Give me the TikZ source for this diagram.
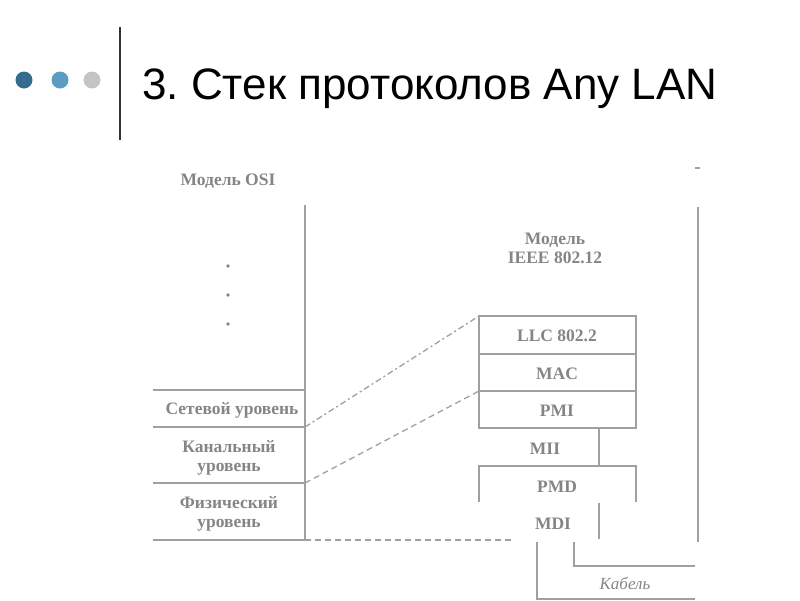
\documentclass[tikz,border=0pt]{standalone}
\usepackage{fontspec}
\setmainfont{Liberation Serif}
\newfontfamily\titlefont{Liberation Sans}
\definecolor{dotA}{HTML}{336C8C}
\definecolor{dotB}{HTML}{5A9CC2}
\definecolor{dotC}{HTML}{C4C4C4}
\definecolor{ln}{HTML}{A0A0A0}
\definecolor{tx}{HTML}{858585}
\tikzset{
  lbl/.style={font=\bfseries\fontsize{17.5}{19}\selectfont, text=tx, align=center, inner sep=0pt},
  gline/.style={draw=ln, line width=1.6pt},
  dline/.style={draw=ln, line width=1.3pt, dash pattern=on 6pt off 4pt},
  ddline/.style={draw=ln, line width=1.3pt, dash pattern=on 6pt off 3pt on 2pt off 3pt},
}
\frenchspacing
\begin{document}
\begin{tikzpicture}[x=1pt,y=-1pt]
\useasboundingbox (0,0) rectangle (800,600);
% title
\fill[dotA] (24,80) circle (8.5);
\fill[dotB] (60,80) circle (8.5);
\fill[dotC] (92,80) circle (8.5);
\draw[line width=1.5pt, black!80] (120,27) -- (120,140);
\node[anchor=base west, inner sep=0pt, font=\titlefont\fontsize{44}{46}\selectfont] (title) at (142,99.5) {3. Стек протоколов Any LAN};
% OSI column
\node[lbl] (osi) at (228,181) {Модель OSI};
\coordinate (osiTop) at (305,205);
\coordinate (osiBot) at (305,540);
\draw[gline] (osiTop) -- (osiBot);
\foreach \yy in {266,295,324} \fill[tx] (228,\yy) circle (1.8);
\coordinate (h1l) at (153,390); \coordinate (h1r) at (305,390);
\coordinate (h2l) at (153,427); \coordinate (h2r) at (305,427);
\coordinate (h3l) at (153,483); \coordinate (h3r) at (305,483);
\coordinate (h4l) at (153,540); \coordinate (h4r) at (305,540);
\draw[gline] (h1l) -- (h1r);
\draw[gline] (h2l) -- (h2r);
\draw[gline] (h3l) -- (h3r);
\draw[gline] (h4l) -- (h4r);
\node[lbl] (net) at (232,410) {Сетевой уровень};
\node[lbl] (link) at (229,458) {Канальный\\уровень};
\node[lbl] (phys) at (229,514) {Физический\\уровень};
% IEEE column
\node[lbl] (ieee) at (555,248) {Модель\\IEEE 802.12};
\draw[gline] (479,316) rectangle (636,428);
\draw[gline] (479,354) -- (636,354);
\draw[gline] (479,391) -- (636,391);
\node[lbl] (llc) at (557,336) {LLC 802.2};
\node[lbl] (mac) at (557,374) {MAC};
\node[lbl] (pmi) at (557,411) {PMI};
\draw[gline] (599,428) -- (599,466);
\node[lbl] (mii) at (545,449) {MII};
\draw[gline] (479,502) -- (479,466) -- (636,466) -- (636,502);
\node[lbl] (pmd) at (557,487) {PMD};
\node[lbl] (mdi) at (553,524) {MDI};
\draw[gline] (599,503) -- (599,539);
\draw[gline] (574,542) -- (574,566) -- (695,566);
\draw[gline] (537,542) -- (537,599) -- (695,599);
\node[font=\itshape\fontsize{17}{18}\selectfont, text=tx, inner sep=0pt] (cable) at (625,583) {Кабель};
% right line
\draw[gline] (698,207) -- (698,542);
\draw[draw=ln, line width=1.2pt] (695,168) -- (700,168);
% dashed connectors
\draw[ddline] (h2r) -- (479,316);
\draw[dline] (h3r) -- (479,391);
\draw[dline] (h4r) -- (513,540);
\end{tikzpicture}
\end{document}
